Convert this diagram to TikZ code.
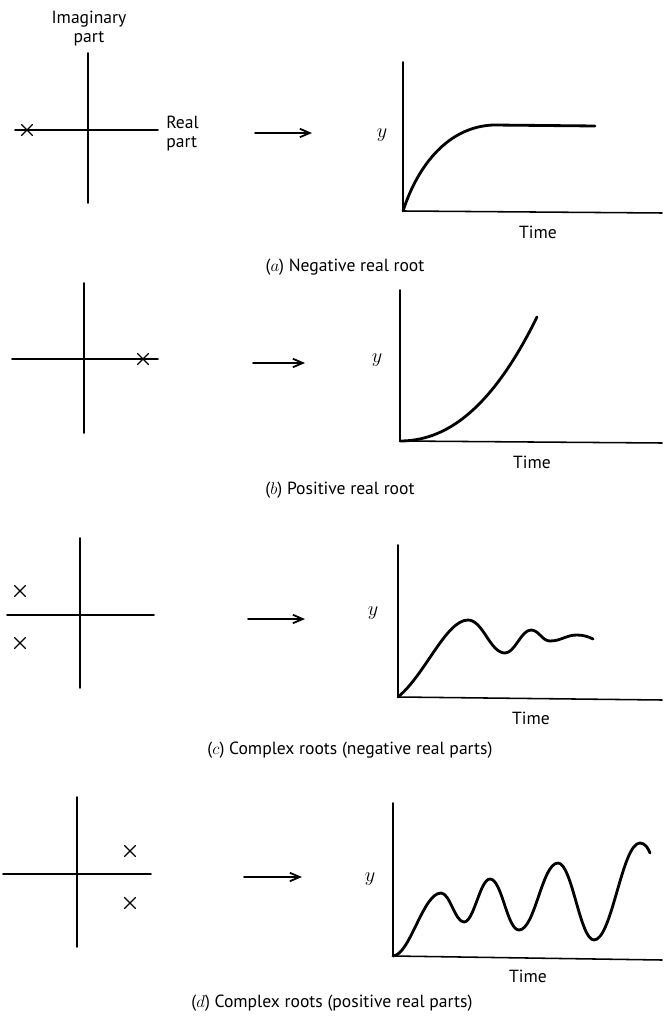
\documentclass[tikz,border=0pt]{standalone}
\usepackage{fontspec}
\setmainfont{PT Sans}
\usetikzlibrary{arrows.meta,shapes.misc}

\begin{document}
\begin{tikzpicture}
    [>={Straight Barb[length=7pt,width=6pt]},
    line cap=round,
    line join=round,
    x=0.025cm, y=0.025cm,
    achse/.style={line width=1.1pt},
    kurve/.style={line width=2pt},
    pfeil/.style={->, line width=1.3pt},
    wurzel/.style={cross out, draw, minimum size=7pt, inner sep=0pt, line width=0.8pt},
    beschr/.style={font=\fontsize{12.5}{13.5}\selectfont, inner sep=0pt},
    ylab/.style={font=\fontsize{15}{15}\selectfont, inner sep=0pt}]

    \useasboundingbox (0,0) rectangle (663,-1016);

    % (a) negative reelle Wurzel
    \coordinate (a-l) at (15,-130);
    \coordinate (a-r) at (158,-130);
    \coordinate (a-u) at (88,-53);
    \coordinate (a-d) at (88,-203);
    \draw[achse] (a-l) -- (a-r);
    \draw[achse] (a-d) -- (a-u);
    \node[wurzel] (a-w) at (27,-130) {};
    \node[beschr, align=center] (a-im) at (89,-29) {Imaginary\\part};
    \node[beschr, align=left, anchor=west] (a-re) at (166,-134) {Real\\part};
    \coordinate (a-p1) at (255,-133);
    \coordinate (a-p2) at (312,-133);
    \draw[pfeil] (a-p1) -- (a-p2);
    \coordinate (a-o) at (403,-211);
    \coordinate (a-yt) at (403,-62);
    \coordinate (a-xe) at (662,-213);
    \draw[achse] (a-yt) -- (a-o) -- (a-xe);
    \node[ylab] (a-y) at (382,-135) {$y$};
    \node[beschr] (a-t) at (538,-232) {Time};
    \draw[kurve] (a-o) .. controls (418,-165) and (448,-127) .. (493,-125) -- (595,-126);
    \node[beschr] (a-cap) at (345,-267) {($a$) Negative real root};

    % (b) positive reelle Wurzel
    \coordinate (b-l) at (12,-359);
    \coordinate (b-r) at (158,-359);
    \coordinate (b-u) at (84,-283);
    \coordinate (b-d) at (84,-433);
    \draw[achse] (b-l) -- (b-r);
    \draw[achse] (b-d) -- (b-u);
    \node[wurzel] (b-w) at (143,-359) {};
    \coordinate (b-p1) at (253,-363);
    \coordinate (b-p2) at (305,-363);
    \draw[pfeil] (b-p1) -- (b-p2);
    \coordinate (b-o) at (400,-441);
    \coordinate (b-yt) at (400,-290);
    \coordinate (b-xe) at (662,-443);
    \draw[achse] (b-yt) -- (b-o) -- (b-xe);
    \node[ylab] (b-y) at (377,-360) {$y$};
    \node[beschr] (b-t) at (532,-462) {Time};
    \draw[kurve] plot[domain=0:137, samples=40]
        ({400+\x},{-441+124*(0.75*(\x/137)^2+0.25*(\x/137)^3)});
    \node[beschr] (b-cap) at (340,-490) {($b$) Positive real root};

    % (c) komplexe Wurzeln, Realteil negativ
    \coordinate (c-l) at (7,-615);
    \coordinate (c-r) at (154,-615);
    \coordinate (c-u) at (80,-538);
    \coordinate (c-d) at (80,-688);
    \draw[achse] (c-l) -- (c-r);
    \draw[achse] (c-d) -- (c-u);
    \node[wurzel] (c-w1) at (20,-591) {};
    \node[wurzel] (c-w2) at (20,-643) {};
    \coordinate (c-p1) at (248,-619);
    \coordinate (c-p2) at (305,-619);
    \draw[pfeil] (c-p1) -- (c-p2);
    \coordinate (c-o) at (398,-697);
    \coordinate (c-yt) at (398,-545);
    \coordinate (c-xe) at (662,-700);
    \draw[achse] (c-yt) -- (c-o) -- (c-xe);
    \node[ylab] (c-y) at (373,-613) {$y$};
    \node[beschr] (c-t) at (531,-718) {Time};
    \draw[kurve] (c-o) .. controls (425,-675) and (446,-620) .. (468,-620)
        .. controls (483,-620) and (490,-653) .. (505,-653)
        .. controls (515,-653) and (521,-630) .. (531,-630)
        .. controls (539,-630) and (542,-641) .. (550,-641)
        .. controls (561,-641) and (566,-635) .. (577,-635)
        .. controls (584,-635) and (589,-637) .. (593,-639);
    \node[beschr] (c-cap) at (350,-750) {($c$) Complex roots (negative real parts)};

    % (d) komplexe Wurzeln, Realteil positiv
    \coordinate (d-l) at (3,-874);
    \coordinate (d-r) at (151,-874);
    \coordinate (d-u) at (77,-797);
    \coordinate (d-d) at (77,-947);
    \draw[achse] (d-l) -- (d-r);
    \draw[achse] (d-d) -- (d-u);
    \node[wurzel] (d-w1) at (130,-851) {};
    \node[wurzel] (d-w2) at (130,-903) {};
    \coordinate (d-p1) at (244,-877);
    \coordinate (d-p2) at (302,-877);
    \draw[pfeil] (d-p1) -- (d-p2);
    \coordinate (d-o) at (393,-956);
    \coordinate (d-yt) at (393,-803);
    \coordinate (d-xe) at (662,-960);
    \draw[achse] (d-yt) -- (d-o) -- (d-xe);
    \node[ylab] (d-y) at (370,-879) {$y$};
    \node[beschr] (d-t) at (528,-976) {Time};
    \draw[kurve] (d-o) .. controls (410,-955) and (423,-893) .. (441,-893)
        .. controls (450,-893) and (455,-922) .. (464,-922)
        .. controls (474,-922) and (480,-879) .. (490,-879)
        .. controls (502,-879) and (507,-930) .. (519,-930)
        .. controls (535,-930) and (542,-863) .. (558,-863)
        .. controls (572,-863) and (580,-940) .. (594,-940)
        .. controls (612,-940) and (622,-843) .. (640,-843)
        .. controls (645,-843) and (648,-848) .. (650,-853);
    \node[beschr] (d-cap) at (332,-1003) {($d$) Complex roots (positive real parts)};
\end{tikzpicture}
\end{document}
